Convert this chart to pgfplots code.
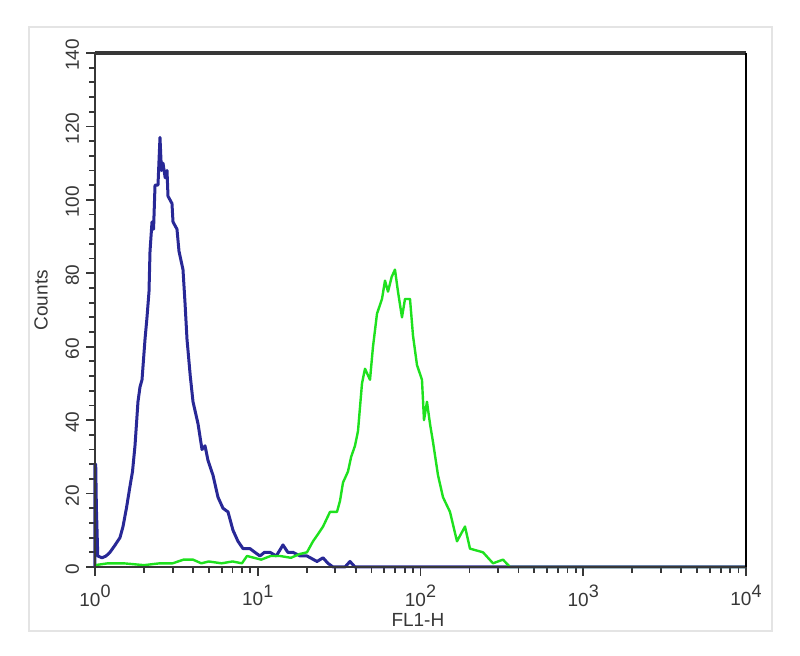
\documentclass[border=0pt]{standalone}
\usepackage{pgfplots}
\pgfplotsset{compat=1.18}
\usepackage{fontspec}
\setmainfont{Liberation Sans}
\definecolor{axgray}{RGB}{55,55,55}
\definecolor{frm}{RGB}{228,228,228}
\definecolor{bcurve}{RGB}{40,40,150}
\definecolor{bhalo}{RGB}{140,140,205}
\definecolor{gcurve}{RGB}{30,225,30}
\begin{document}
\begin{tikzpicture}
\useasboundingbox (0,0) rectangle (400pt,328pt);
\fill[white] (0,0) rectangle (400pt,328pt);
\draw[frm, line width=1pt] (14.5pt,12.5pt) rectangle (386pt,314.5pt);
\begin{axis}[
  at={(47.5pt,44.5pt)}, anchor=south west,
  scale only axis, width=325.5pt, height=257pt,
  xmode=log, log basis x=10,
  xmin=1, xmax=10000, ymin=0, ymax=140,
  clip=false,
  axis line style={draw=none},
  tick pos=left, tick align=outside,
  xtick={1,10,100,1000,10000},
  xticklabels={10\raisebox{0.45em}{\small 0},10\raisebox{0.45em}{\small 1},10\raisebox{0.45em}{\small 2},10\raisebox{0.45em}{\small 3},10\raisebox{0.45em}{\small 4}},
  minor xtick={2,3,4,5,6,7,8,9,20,30,40,50,60,70,80,90,200,300,400,500,600,700,800,900,2000,3000,4000,5000,6000,7000,8000,9000},
  ytick={0,20,...,140},
  minor y tick num=4,
  major tick length=4.5pt, minor tick length=3pt,
  every tick/.style={axgray, line width=0.9pt},
  /pgf/number format/assume math mode=true,
  tick label style={font=\fontsize{9.5}{10}\selectfont, text=axgray},
  yticklabel style={rotate=90, anchor=south, xshift=-1pt},
  xticklabel style={yshift=-1pt},
  xlabel={FL1-H}, ylabel={Counts},
  label style={font=\fontsize{9.5}{10}\selectfont, text=axgray},
  xlabel style={at={(axis description cs:0.496,-0.103)}, anchor=center},
  ylabel style={at={(axis description cs:-0.083,0.519)}, anchor=center, rotate=0},
]
\addplot[bcurve, line width=1.5pt, line join=round] coordinates {
(1.0,0) (1.0,28) (1.01,28) (1.02,16) (1.04,3) (1.104,2.5) (1.17,3) (1.236,4) (1.33,6) (1.424,8) (1.486,11) (1.56,16) (1.641,22)
(1.70,26) (1.761,33) (1.837,45) (1.89,49) (1.945,51) (2.029,62) (2.087,68) (2.147,75) (2.178,86)
(2.240,94) (2.29,92) (2.338,104) (2.438,104) (2.508,117) (2.56,108) (2.617,110) (2.70,106) (2.770,108)
(2.809,101) (2.972,99) (3.015,94) (3.190,92) (3.282,86) (3.473,81) (3.573,72) (3.676,62) (3.728,59)
(3.85,52) (4.002,45) (4.296,39) (4.545,32) (4.743,33) (4.948,29) (5.309,25) (5.699,19) (6.115,16)
(6.565,15) (7.046,10) (7.561,7) (8.119,5) (8.963,5) (9.6,4) (10.32,3) (11.0,4) (11.89,4) (13.0,3) (14.29,6)
(15.3,4) (16.47,4) (18.2,3) (20.07,3) (23.13,1.5) (25.18,2.5) (27.0,1) (29.00,0) (34.37,0) (36.89,1.5) (39.58,0) (10000,0)
};
\addplot[gcurve, line width=1.2pt, line join=round] coordinates {
(1.0,0.5) (1.2,1) (1.5,1) (2.0,0.5) (2.5,1) (3.0,1) (3.5,2) (4.0,2) (4.5,1) (5.0,1.5) (6.0,1) (7.0,1.5) (8.0,1) (8.59,3)
(10.5,2) (12.0,3) (13.70,3) (16.0,2.5) (18.0,3.5) (20.07,4) (21.86,7) (23.5,9) (25.18,11) (27.79,15) (30.68,15) (32.02,18) (33.41,23)
(35.85,26) (37.5,30) (39.58,33) (41.30,37) (43.71,50) (45.60,54) (48.95,51) (51.07,60) (54.05,69) (58.00,73)
(60.52,78) (63.14,75) (66.5,79) (69.70,81) (72.73,75) (76.97,68) (80.31,73) (86.21,73) (89.95,63) (95.17,55)
(102.1,51) (105.1,40) (109.6,45) (114.4,39) (119.4,34) (128.1,25) (137.5,19) (151.8,15) (167.6,7)
(187.7,11) (201.4,5) (242.1,4) (279.0,1) (321.3,2) (354.7,0) (10000,0)
};
\draw[axgray, line width=1.4pt] (rel axis cs:0,1) -- (rel axis cs:0,0) -- (rel axis cs:1,0);
\draw[axgray, line width=1.6pt] (rel axis cs:0,1) -- (rel axis cs:1,1);
\draw[black, line width=1pt] (rel axis cs:1,1) -- (rel axis cs:1,0);
\end{axis}
\end{tikzpicture}
\end{document}
